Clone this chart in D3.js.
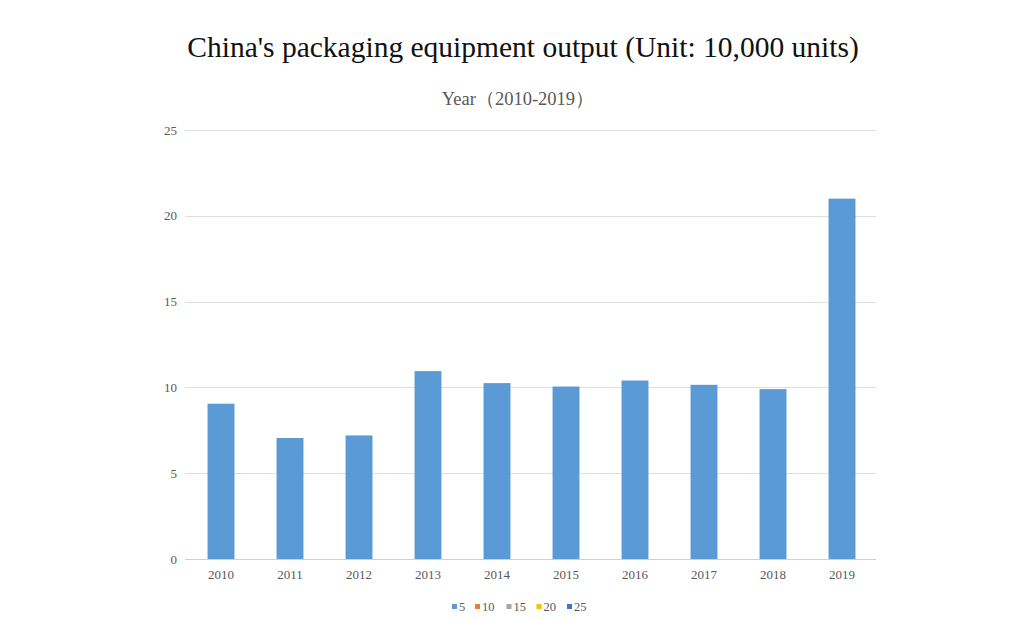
<!DOCTYPE html>
<html><head><meta charset="utf-8">
<script src="https://cdn.jsdelivr.net/npm/d3@7"></script>
<style>body{margin:0;background:#fff}svg{display:block}</style>
</head><body>
<script>
const years = ["2010","2011","2012","2013","2014","2015","2016","2017","2018","2019"];
const output = [9.05, 7.05, 7.2, 10.95, 10.25, 10.05, 10.4, 10.15, 9.9, 21.0];
const yTicks = [0, 5, 10, 15, 20, 25];
const legendLabels = ["5", "10", "15", "20", "25"];
const legendColors = ["#5b9bd5", "#ed7d31", "#a5a5a5", "#ffc000", "#4472c4"];

(function () {
const W = 1024, H = 621;
const svg = d3.select("body").append("svg").attr("width", W).attr("height", H);
const pLeft = 186.5, pRight = 876.5, pTop = 130, pBottom = 559;
const font = "'Liberation Serif', 'DejaVu Serif', serif";

const x = d3.scaleBand().domain(years).range([pLeft, pRight]).paddingInner(0.61).paddingOuter(0.305);
const y = d3.scaleLinear().domain([0, 25]).range([pBottom, pTop]);

svg.append("text").attr("x", 523).attr("y", 57).attr("text-anchor", "middle")
  .attr("font-family", font).attr("font-size", 29.5).attr("fill", "#111")
  .text("China's packaging equipment output (Unit: 10,000 units)");
svg.append("text").attr("x", 518).attr("y", 105).attr("text-anchor", "middle")
  .attr("font-family", font).attr("font-size", 18.5).attr("fill", "#595959")
  .text("Year（2010-2019）");

// gridlines
svg.append("g").selectAll("line").data(yTicks).join("line")
  .attr("x1", 185).attr("x2", 876)
  .attr("y1", d => Math.round(y(d)) + 0.5).attr("y2", d => Math.round(y(d)) + 0.5)
  .attr("stroke", d => d === 0 ? "#d0d0d0" : "#dedede").attr("stroke-width", 1);

// y axis labels
const ya = svg.append("g").attr("transform", `translate(177,0)`)
  .call(d3.axisLeft(y).tickValues(yTicks).tickSize(0).tickPadding(0));
ya.select(".domain").remove();
ya.selectAll("text").attr("font-family", font).attr("font-size", 13).attr("fill", "#595959");

// x axis labels
const xa = svg.append("g").attr("transform", `translate(0,${pBottom})`)
  .call(d3.axisBottom(x).tickSize(0).tickPadding(11));
xa.select(".domain").remove();
xa.selectAll("text").attr("font-family", font).attr("font-size", 13).attr("fill", "#595959");

// bars
svg.append("g").selectAll("rect").data(years).join("rect")
  .attr("x", d => x(d)).attr("width", x.bandwidth())
  .attr("y", (d, i) => y(output[i])).attr("height", (d, i) => y(0) - y(output[i]))
  .attr("fill", "#5b9bd5");

// legend
const lx = [452, 475, 506.5, 536.5, 567];
const lg = svg.append("g");
legendLabels.forEach((lab, i) => {
  lg.append("rect").attr("x", lx[i]).attr("y", 604).attr("width", 5).attr("height", 5).attr("fill", legendColors[i]);
  lg.append("text").attr("x", lx[i] + 7).attr("y", 611).attr("font-family", font).attr("font-size", 12.5)
    .attr("fill", "#595959").text(lab);
});
})();
</script>
</body></html>
